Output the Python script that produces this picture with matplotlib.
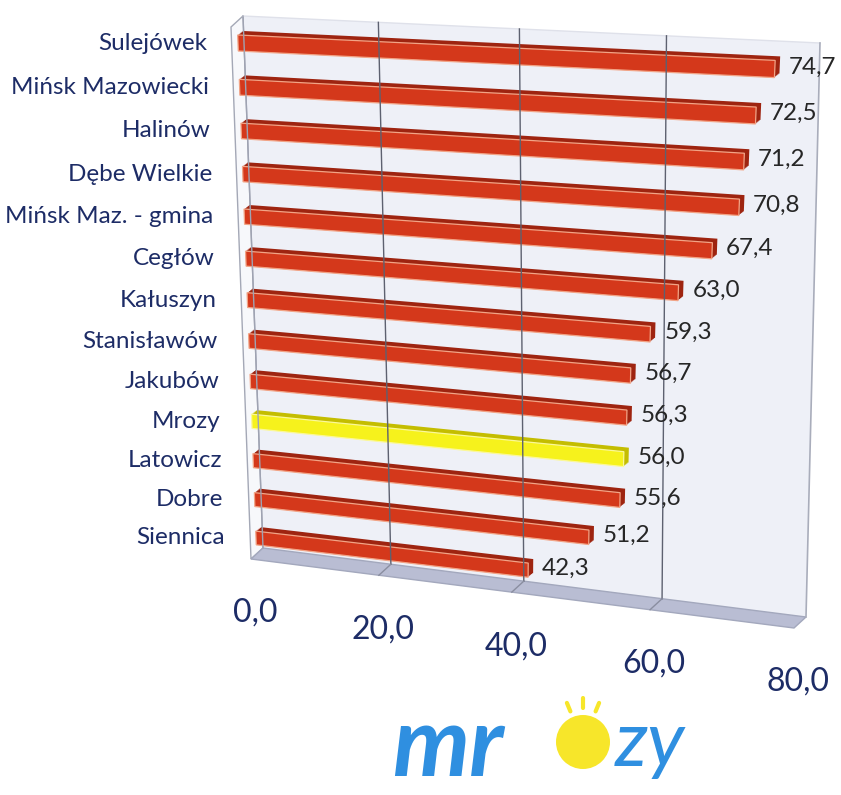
"""Perspective bar chart of municipalities with Mrozy highlighted."""

import numpy as np
import matplotlib
matplotlib.use("Agg")
import matplotlib.pyplot as plt
import matplotlib.transforms as mtransforms
from matplotlib.patches import Polygon, Rectangle, Circle

# --- data -------------------------------------------------------------
municipalities = ["Sulejówek", "Mińsk Mazowiecki", "Halinów", "Dębe Wielkie",
                  "Mińsk Maz. - gmina", "Cegłów", "Kałuszyn", "Stanisławów",
                  "Jakubów", "Mrozy", "Latowicz", "Dobre", "Siennica"]
values = [74.7, 72.5, 71.2, 70.8, 67.4, 63.0, 59.3, 56.7, 56.3, 56.0, 55.6, 51.2, 42.3]
highlighted = "Mrozy"
x_ticks = [0, 20, 40, 60, 80]

FONT = ["Lato", "Noto Sans", "DejaVu Sans"]
NAVY = "#1d2c66"
W, H = 841, 795


class Homography(mtransforms.Transform):
    """Projective map from (value, row) to figure pixels (y down)."""
    input_dims = output_dims = 2

    def __init__(self, src, dst):
        super().__init__()
        a, b = [], []
        for (u, v), (x, y) in zip(src, dst):
            a.append([u, v, 1, 0, 0, 0, -u * x, -v * x])
            b.append(x)
            a.append([0, 0, 0, u, v, 1, -u * y, -v * y])
            b.append(y)
        self.m = np.append(np.linalg.solve(a, b), 1).reshape(3, 3)

    def transform_non_affine(self, values):
        pts = np.atleast_2d(np.asarray(values, dtype=float))
        p = np.column_stack([pts, np.ones(len(pts))]) @ self.m.T
        return p[:, :2] / p[:, 2:]


n = len(values)
rows = np.arange(n)
top, bottom = -0.45, n - 1 + 0.45

# plane of the bar fronts and plane of the back wall
bar_proj = Homography([(0, 0), (80, 0), (0, 12), (80, 12)],
                      [(238, 43), (816, 71), (256, 538), (789, 601)])
wall_proj = Homography([(0, top), (80, top), (0, bottom), (80, bottom)],
                       [(243, 16), (820, 43), (263, 548), (806, 617)])
depth = np.array([-12, 11])

fig = plt.figure(figsize=(W / 100, H / 100), dpi=100)
ax = fig.add_axes([0, 0, 1, 1])
ax.set_xlim(0, W)
ax.set_ylim(H, 0)
ax.axis("off")

t_bar = bar_proj + ax.transData
t_wall = wall_proj + ax.transData

# back wall, side wall and floor
ax.add_patch(Rectangle((0, top), 80, bottom - top, transform=t_wall,
                       facecolor="#eef0f7", edgecolor="none"))
ax.plot([0, 80], [top, top], transform=t_wall, color="#dfe1ea", lw=1)
ax.plot([80, 80], [top, bottom], transform=t_wall, color="#a9adbb", lw=1.2)
ax.plot([0, 0], [top, bottom], transform=t_wall, color="#9fa3b2", lw=1)
side = wall_proj.transform([[0, top], [0, bottom]])
ax.add_patch(Polygon([side[0] + depth, side[1] + depth, side[1], side[0]],
                     facecolor="#f7f8fb", edgecolor="#a4a8b6", lw=1))
floor = wall_proj.transform([[0, bottom], [80, bottom]])
ax.add_patch(Polygon([floor[0], floor[1], floor[1] + depth, floor[0] + depth],
                     facecolor="#b9bdd3", edgecolor="#a3a8bd", lw=1))

# gridlines on the wall and across the floor
for v in x_ticks[1:-1]:
    ax.plot([v, v], [top, bottom], transform=t_wall, color="#5d6170", lw=1)
    p = wall_proj.transform([[v, bottom]])[0]
    ax.plot([p[0], p[0] + depth[0]], [p[1], p[1] + depth[1]],
            color="#8a8ea0", lw=1)

# bars: a few shifted layers give the box depth, the front face on top
is_hl = [m == highlighted for m in municipalities]
side_colors = ["#c4bd00" if h else "#9e2410" for h in is_hl]
face_colors = ["#f6f21c" if h else "#d4381b" for h in is_hl]
rim_colors = ["#fbf89a" if h else "#f2a486" for h in is_hl]
for t in (1.0, 0.8, 0.6, 0.4, 0.2):
    shift = mtransforms.Affine2D().translate(5 * t, -4 * t)
    ax.barh(rows, values, height=0.36, color=side_colors, linewidth=0,
            transform=bar_proj + shift + ax.transData)
ax.barh(rows, values, height=0.36, color=face_colors, edgecolor=rim_colors,
        linewidth=0.9, transform=t_bar)

# labels
name_tr = mtransforms.offset_copy(t_bar, fig, x=-31, y=0, units="dots")
value_tr = mtransforms.offset_copy(t_bar, fig, x=14, y=2, units="dots")
for r, (name, v) in enumerate(zip(municipalities, values)):
    ax.text(0, r, name, transform=name_tr, ha="right", va="center",
            fontsize=17.5, color=NAVY, family=FONT)
    ax.text(v, r, f"{v:.1f}".replace(".", ","), transform=value_tr,
            ha="left", va="center", fontsize=17.5, color="#262626", family=FONT)

# value axis labels sit in front of the floor
tick_tr = mtransforms.offset_copy(t_wall, fig, x=-8, y=-65, units="dots")
for v in x_ticks:
    ax.text(v, bottom, f"{v:.1f}".replace(".", ","), transform=tick_tr,
            ha="center", va="center", fontsize=23, color=NAVY, family=FONT)

# logo under the chart
ax.text(448, 748, "mr", color="#2f8fe0", fontsize=70, fontstyle="italic",
        fontweight="bold", ha="center", va="center", family=FONT)
for dx, dy in [(-14, -34), (0, -38), (14, -34)]:
    ax.plot([583 + dx * 0.9, 583 + dx * 1.15], [742 + dy * 0.9, 742 + dy * 1.15],
            color="#f7e62a", lw=3, solid_capstyle="round")
ax.add_patch(Circle((583, 742), 27, facecolor="#f7e62a", edgecolor="none"))
ax.text(650, 744, "zy", color="#2f8fe0", fontsize=56, fontstyle="italic",
        ha="center", va="center", family=FONT)

fig.savefig("out.png", dpi=100)
